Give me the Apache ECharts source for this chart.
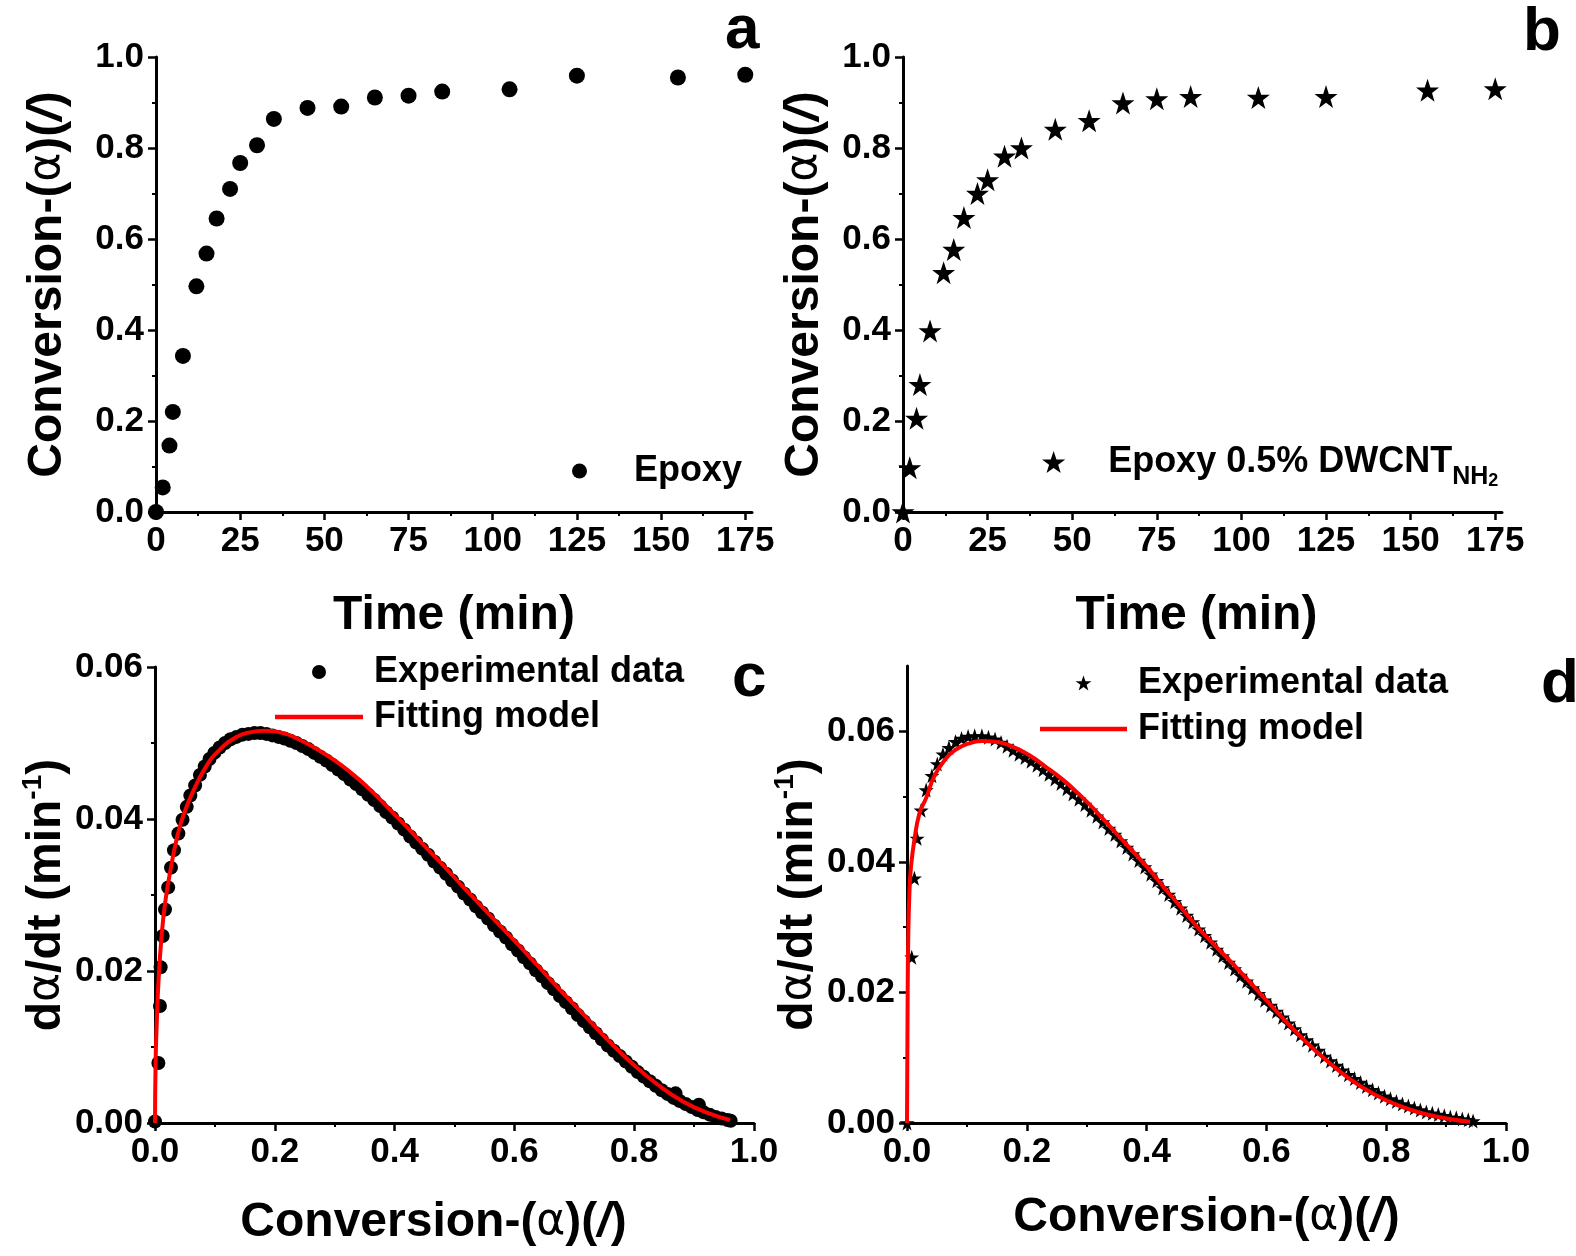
<!DOCTYPE html>
<html>
<head>
<meta charset="utf-8">
<title>Cure conversion and rate</title>
<script src="https://cdn.jsdelivr.net/npm/echarts@6/dist/echarts.min.js"></script>
<style>
  html, body { margin: 0; padding: 0; background: #fff; }
  #chart { width: 1576px; height: 1256px; }
</style>
</head>
<body>
<div id="chart"></div>
<script>
// panels a, b : conversion vs time
var times = [0, 2, 4, 5, 8, 12, 15, 18, 22, 25, 30, 35, 45, 55, 65, 75, 85, 105, 125, 155, 175];
var convEpoxy = [0, 0.054, 0.146, 0.22, 0.343, 0.496, 0.568, 0.645, 0.71, 0.767, 0.806, 0.864, 0.888, 0.891, 0.911, 0.915, 0.924, 0.929, 0.959, 0.955, 0.961];
var convCnt = [0, 0.097, 0.206, 0.28, 0.398, 0.526, 0.577, 0.647, 0.70, 0.73, 0.782, 0.80, 0.841, 0.86, 0.899, 0.908, 0.913, 0.911, 0.913, 0.927, 0.93];

// panel c : rate vs conversion, Epoxy
var expC = [
  [0, 0.0002], [0.0056, 0.0079], [0.0083, 0.0154], [0.0094, 0.0205], [0.0128, 0.0246], [0.0167, 0.0281],
  [0.022, 0.031], [0.0267, 0.0336], [0.0317, 0.0359], [0.039, 0.0381], [0.046, 0.0399], [0.053, 0.0416],
  [0.059, 0.0431], [0.067, 0.0444], [0.075, 0.0458], [0.083, 0.0469], [0.091, 0.0479], [0.099, 0.0487],
  [0.108, 0.0494], [0.117, 0.0500], [0.126, 0.0505], [0.136, 0.0508], [0.146, 0.0511], [0.156, 0.0512],
  [0.166, 0.0513], [0.176, 0.0513], [0.186, 0.0512], [0.196, 0.0510], [0.206, 0.0508], [0.216, 0.0506],
  [0.226, 0.0503], [0.236, 0.0500], [0.246, 0.0496], [0.256, 0.0492], [0.266, 0.0487], [0.276, 0.0482],
  [0.286, 0.0477], [0.296, 0.0471], [0.306, 0.0465], [0.316, 0.0459], [0.326, 0.0452], [0.336, 0.0446],
  [0.346, 0.0439], [0.356, 0.0432], [0.366, 0.0425], [0.376, 0.0417], [0.386, 0.0409], [0.396, 0.0402],
  [0.406, 0.0394], [0.416, 0.0386], [0.426, 0.0377], [0.436, 0.0369], [0.446, 0.0361], [0.456, 0.0353],
  [0.466, 0.0344], [0.476, 0.0336], [0.486, 0.0328], [0.496, 0.0319], [0.506, 0.0311], [0.516, 0.0302],
  [0.526, 0.0294], [0.536, 0.0285], [0.546, 0.0277], [0.556, 0.0269], [0.566, 0.0260], [0.576, 0.0252],
  [0.586, 0.0244], [0.596, 0.0235], [0.606, 0.0227], [0.616, 0.0218], [0.626, 0.0210], [0.636, 0.0201],
  [0.646, 0.0193], [0.656, 0.0184], [0.666, 0.0176], [0.676, 0.0167], [0.686, 0.0159], [0.696, 0.0151],
  [0.706, 0.0142], [0.716, 0.0134], [0.726, 0.0126], [0.736, 0.0118], [0.746, 0.0110], [0.756, 0.0102],
  [0.766, 0.0095], [0.776, 0.0088], [0.786, 0.0081], [0.796, 0.0074], [0.806, 0.0067], [0.816, 0.0061],
  [0.826, 0.0055], [0.836, 0.0049], [0.846, 0.0043], [0.856, 0.0038], [0.866, 0.0033], [0.876, 0.0029],
  [0.886, 0.0025], [0.896, 0.0021], [0.906, 0.0017], [0.916, 0.0014], [0.926, 0.0011], [0.936, 0.0008],
  [0.946, 0.0006], [0.956, 0.0004], [0.961, 0.0003], [0.869, 0.0039], [0.908, 0.0024]
];
var fitC = [
  [0, 0], [0.001, 0.008], [0.003, 0.0133], [0.006, 0.0189], [0.011, 0.0246], [0.017, 0.029], [0.025, 0.0329],
  [0.036, 0.0373], [0.047, 0.0404], [0.064, 0.0437], [0.086, 0.047], [0.108, 0.0491], [0.136, 0.0508],
  [0.158, 0.0514], [0.183, 0.0516], [0.214, 0.0513], [0.242, 0.0504], [0.27, 0.0492], [0.3, 0.0477],
  [0.33, 0.0459], [0.36, 0.0438], [0.4, 0.0406], [0.44, 0.0373], [0.48, 0.0340], [0.52, 0.0306],
  [0.56, 0.0273], [0.6, 0.0240], [0.64, 0.0206], [0.68, 0.0172], [0.72, 0.0139], [0.76, 0.0106],
  [0.8, 0.0076], [0.84, 0.0050], [0.88, 0.0029], [0.92, 0.0014], [0.96, 0.0004]
];

// panel d : rate vs conversion, Epoxy 0.5% DWCNT-NH2
var expD = [
  [0, 0], [0.0079, 0.0254], [0.0124, 0.0375], [0.0169, 0.0436], [0.0236, 0.0479], [0.032, 0.0510],
  [0.0416, 0.0532], [0.0506, 0.0550], [0.060, 0.0565], [0.070, 0.0575], [0.081, 0.0584], [0.091, 0.0589],
  [0.102, 0.0592], [0.113, 0.0593], [0.125, 0.0593], [0.136, 0.0591], [0.147, 0.0588], [0.157, 0.0583],
  [0.167, 0.0577], [0.177, 0.0571], [0.187, 0.0565], [0.197, 0.0560], [0.207, 0.0554], [0.217, 0.0548],
  [0.227, 0.0541], [0.237, 0.0534], [0.247, 0.0527], [0.257, 0.0520], [0.267, 0.0512], [0.277, 0.0504],
  [0.287, 0.0496], [0.297, 0.0488], [0.307, 0.0479], [0.317, 0.0470], [0.327, 0.0461], [0.337, 0.0451],
  [0.347, 0.0442], [0.357, 0.0432], [0.367, 0.0422], [0.377, 0.0412], [0.387, 0.0402], [0.397, 0.0392],
  [0.407, 0.0381], [0.417, 0.0371], [0.427, 0.0360], [0.437, 0.0350], [0.447, 0.0339], [0.457, 0.0329],
  [0.467, 0.0318], [0.477, 0.0308], [0.487, 0.0297], [0.497, 0.0287], [0.507, 0.0277], [0.517, 0.0266],
  [0.527, 0.0256], [0.537, 0.0246], [0.547, 0.0236], [0.557, 0.0226], [0.567, 0.0217], [0.577, 0.0207],
  [0.587, 0.0198], [0.597, 0.0188], [0.607, 0.0180], [0.617, 0.0171], [0.627, 0.0162], [0.637, 0.0153],
  [0.647, 0.0144], [0.657, 0.0135], [0.667, 0.0127], [0.677, 0.0119], [0.687, 0.0111], [0.697, 0.0102],
  [0.707, 0.0095], [0.717, 0.0088], [0.727, 0.0081], [0.737, 0.0074], [0.747, 0.0068], [0.757, 0.0062],
  [0.767, 0.0056], [0.777, 0.0051], [0.787, 0.0046], [0.797, 0.0041], [0.807, 0.0037], [0.817, 0.0033],
  [0.827, 0.0029], [0.837, 0.0026], [0.847, 0.0023], [0.857, 0.0020], [0.867, 0.0017], [0.877, 0.0015],
  [0.887, 0.0013], [0.897, 0.0011], [0.907, 0.0009], [0.917, 0.0008], [0.927, 0.0006], [0.937, 0.0005],
  [0.945, 0.0003]
];
var fitD = [
  [0, 0], [0.001, 0.018], [0.002, 0.028], [0.004, 0.0352], [0.0067, 0.0393], [0.0124, 0.0434],
  [0.0208, 0.0474], [0.032, 0.0498], [0.046, 0.0532], [0.063, 0.0556], [0.08, 0.0571], [0.102, 0.0581],
  [0.125, 0.0585], [0.147, 0.0584], [0.175, 0.0577], [0.203, 0.0564], [0.231, 0.0546], [0.26, 0.0526],
  [0.288, 0.0503], [0.316, 0.0477], [0.344, 0.0449], [0.372, 0.0421], [0.40, 0.0393], [0.428, 0.0362],
  [0.456, 0.0332], [0.484, 0.0301], [0.515, 0.0271], [0.55, 0.0238], [0.584, 0.0204], [0.62, 0.0168],
  [0.66, 0.0130], [0.70, 0.0096], [0.74, 0.0067], [0.78, 0.0044], [0.82, 0.0027], [0.86, 0.0015],
  [0.90, 0.0007], [0.94, 0.0002]
];

// tick labels
var timeTicks = [0, 25, 50, 75, 100, 125, 150, 175];
var rateTicksD = [0, 0.02, 0.04, 0.06];

var FONT = '"Liberation Sans", Arial, sans-serif';
var BLACK = '#000';
var RED = '#ff0000';
var STAR = 'path://M50,0L61.8,35.1L98.1,35.1L68.8,56.8L79.4,91L50,70L20.6,91L31.2,56.8L1.9,35.1L38.2,35.1Z';
var BAR = 'path://M0,0L100,0L100,5L0,5Z';

function pairs(xs, ys) {
  return xs.map(function (x, i) { return [x, ys[i]]; });
}

var nameRich = {
  b: { fontFamily: FONT, fontSize: 48, fontWeight: 'bold', color: BLACK, lineHeight: 56 },
  g: { fontFamily: '"DejaVu Sans"', fontSize: 44, fontWeight: 'normal', color: BLACK, lineHeight: 56 },
  i: { fontFamily: FONT, fontSize: 48, fontWeight: 'bold', fontStyle: 'italic', color: BLACK, lineHeight: 56 },
  sup: { fontFamily: FONT, fontSize: 28, fontWeight: 'bold', color: BLACK, lineHeight: 30, verticalAlign: 'top' }
};
var convName = '{b|Conversion-(}{g|α}{b|)(}{i|/}{b|)}';
var rateName = '{b|d}{g|α}{b|/dt (min}{sup|-1}{b|)}';
var timeName = '{b|Time (min)}';

function axis(gridIndex, min, max, interval, digits, name, nameGap, majors, namePad) {
  var a = {
    type: 'value',
    gridIndex: gridIndex,
    min: min,
    max: max,
    interval: interval,
    name: name,
    nameLocation: 'middle',
    nameGap: nameGap,
    nameTextStyle: { rich: nameRich, padding: namePad || 0 },
    axisLine: { show: true, onZero: false, lineStyle: { color: BLACK, width: 3 } },
    axisTick: { show: true, length: 8, lineStyle: { color: BLACK, width: 2.5 } },
    minorTick: { show: true, splitNumber: 2, length: 4, lineStyle: { color: BLACK, width: 2 } },
    splitLine: { show: false },
    axisLabel: {
      color: BLACK, fontFamily: FONT, fontSize: 35, fontWeight: 'bold', margin: 12,
      formatter: function (v) {
        if (majors && !majors.some(function (m) { return Math.abs(m - v) < 1e-9; })) return '';
        return v.toFixed(digits);
      }
    }
  };
  if (majors) {
    a.axisTick.customValues = majors;
    a.axisLabel.customValues = majors;
  }
  return a;
}

function legendText(lh) {
  return { fontFamily: FONT, fontSize: 36, fontWeight: 'bold', color: BLACK, lineHeight: lh, padding: [0, 0, 0, 6] };
}

var chart = echarts.init(document.getElementById('chart'));

var option = {
  backgroundColor: '#fff',
  animation: false,
  title: [
    { text: 'a', left: 725, top: 0 },
    { text: 'b', left: 1523, top: 2 },
    { text: 'c', left: 732, top: 648 },
    { text: 'd', left: 1541, top: 654 }
  ].map(function (t) {
    t.padding = 0;
    t.textStyle = { fontFamily: FONT, fontSize: 62, fontWeight: 'bold', color: BLACK };
    return t;
  }),
  grid: [
    { left: 156, top: 57, width: 596, height: 455 },
    { left: 903, top: 57, width: 599, height: 455 },
    { left: 155, top: 667, width: 599, height: 456 },
    { left: 907, top: 666, width: 599, height: 457 }
  ],
  xAxis: [
    axis(0, 0, 177, 25, 0, timeName, 76, timeTicks),
    axis(1, 0, 177, 25, 0, timeName, 76, timeTicks, [0, 12, 0, 0]),
    axis(2, 0, 1, 0.2, 1, convName, 72, null, [0, 42, 0, 0]),
    axis(3, 0, 1, 0.2, 1, convName, 67, null)
  ],
  yAxis: [
    axis(0, 0, 1, 0.2, 1, convName, 80, null),
    axis(1, 0, 1, 0.2, 1, convName, 70, null),
    axis(2, 0, 0.06, 0.02, 2, rateName, 80, null),
    axis(3, 0, 0.07, 0.02, 2, rateName, 78, rateTicksD)
  ],
  legend: [
    {
      left: 572, top: 451, orient: 'vertical', padding: 0, itemWidth: 87, itemHeight: 15,
      selectedMode: false, textStyle: legendText(40),
      data: [{ name: 'Epoxy', icon: 'circle' }]
    },
    {
      left: 1042, top: 444, orient: 'vertical', padding: 0, itemWidth: 87, itemHeight: 22,
      selectedMode: false,
      textStyle: {
        fontFamily: FONT, fontSize: 36, fontWeight: 'bold', color: BLACK, padding: [0, 0, 0, 6],
        rich: {
          m: { fontFamily: FONT, fontSize: 36, fontWeight: 'bold', color: BLACK, lineHeight: 56 },
          s: { fontFamily: FONT, fontSize: 25, fontWeight: 'bold', color: BLACK, lineHeight: 22, verticalAlign: 'bottom' },
          t: { fontFamily: FONT, fontSize: 18, fontWeight: 'bold', color: BLACK, lineHeight: 10, verticalAlign: 'bottom' }
        }
      },
      formatter: function () { return '{m|Epoxy 0.5% DWCNT}{s|NH}{t|2}'; },
      data: [{ name: 'Epoxy 0.5% DWCNT-NH2', icon: STAR }]
    },
    {
      left: 275, top: 652, orient: 'vertical', padding: 0, itemWidth: 88, itemHeight: 14, itemGap: 5,
      selectedMode: false, textStyle: legendText(40),
      data: [{ name: 'Experimental data', icon: 'circle' }, { name: 'Fitting model', icon: BAR }]
    },
    {
      left: 1040, top: 663, orient: 'vertical', padding: 0, itemWidth: 87, itemHeight: 15, itemGap: 6,
      selectedMode: false, textStyle: legendText(40),
      data: [{ name: 'Experimental data', icon: STAR }, { name: 'Fitting model', icon: BAR }]
    }
  ],
  series: [
    {
      name: 'Epoxy', type: 'scatter', xAxisIndex: 0, yAxisIndex: 0,
      symbol: 'circle', symbolSize: 16, itemStyle: { color: BLACK, opacity: 1 },
      data: pairs(times, convEpoxy)
    },
    {
      name: 'Epoxy 0.5% DWCNT-NH2', type: 'scatter', xAxisIndex: 1, yAxisIndex: 1,
      symbol: STAR, symbolSize: 23, itemStyle: { color: BLACK, opacity: 1 },
      data: pairs(times, convCnt)
    },
    {
      name: 'Experimental data', type: 'scatter', xAxisIndex: 2, yAxisIndex: 2,
      symbol: 'circle', symbolSize: 14, itemStyle: { color: BLACK, opacity: 1 },
      data: expC
    },
    {
      name: 'Fitting model', type: 'line', xAxisIndex: 2, yAxisIndex: 2,
      showSymbol: false, symbol: 'none', smooth: 0.5,
      lineStyle: { color: RED, width: 4 }, itemStyle: { color: RED },
      data: fitC
    },
    {
      name: 'Experimental data', type: 'scatter', xAxisIndex: 3, yAxisIndex: 3,
      symbol: STAR, symbolSize: 15, itemStyle: { color: BLACK, opacity: 1 },
      data: expD
    },
    {
      name: 'Fitting model', type: 'line', xAxisIndex: 3, yAxisIndex: 3,
      showSymbol: false, symbol: 'none', smooth: 0.5,
      lineStyle: { color: RED, width: 4 }, itemStyle: { color: RED },
      data: fitD
    }
  ]
};

chart.setOption(option);
</script>
</body>
</html>
